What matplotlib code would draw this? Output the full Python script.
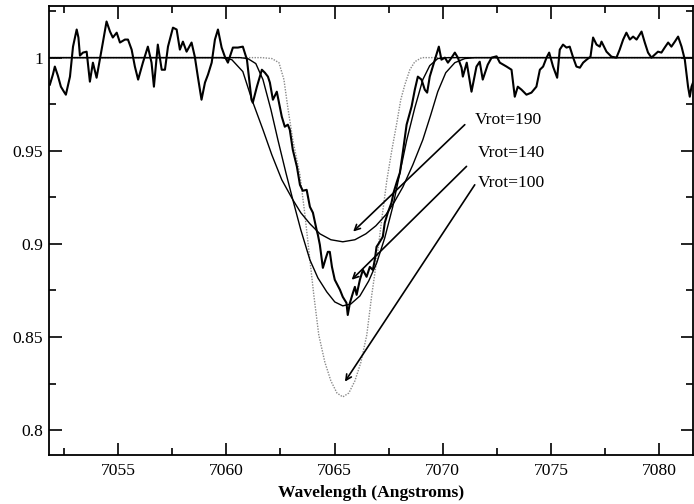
import matplotlib
matplotlib.use("Agg")
import matplotlib.pyplot as plt
from matplotlib.ticker import MultipleLocator, FixedLocator, FixedFormatter

plt.rcParams['font.family'] = ['Liberation Serif', 'DejaVu Serif']

# Observed spectrum
obs_wave = [7051.84, 7051.98, 7052.07, 7052.21, 7052.35, 7052.49, 7052.58, 7052.77, 7052.91, 7053.08,
            7053.16, 7053.23, 7053.37, 7053.54, 7053.69, 7053.83, 7054.00, 7054.15, 7054.29, 7054.46,
            7054.62, 7054.75, 7054.93, 7055.08, 7055.31, 7055.45, 7055.62, 7055.77, 7055.92, 7056.14,
            7056.37, 7056.54, 7056.65, 7056.83, 7057.01, 7057.16, 7057.30, 7057.53, 7057.70, 7057.85,
            7057.99, 7058.16, 7058.39, 7058.54, 7058.68, 7058.85, 7059.01, 7059.15, 7059.32, 7059.47,
            7059.61, 7059.78, 7059.93, 7060.07, 7060.30, 7060.53, 7060.76, 7060.95, 7061.16, 7061.22,
            7061.41, 7061.64, 7061.78, 7061.92, 7062.01, 7062.15, 7062.33, 7062.47, 7062.56, 7062.70,
            7062.84, 7062.93, 7063.07, 7063.26, 7063.40, 7063.53, 7063.71, 7063.86, 7064.00, 7064.17,
            7064.23, 7064.32, 7064.46, 7064.60, 7064.69, 7064.78, 7064.88, 7065.01, 7065.25, 7065.38,
            7065.55, 7065.61, 7065.71, 7065.85, 7065.94, 7066.02, 7066.17, 7066.31, 7066.48, 7066.63,
            7066.77, 7066.86, 7066.94, 7067.09, 7067.23, 7067.32, 7067.46, 7067.63, 7067.74, 7067.88,
            7068.02, 7068.16, 7068.33, 7068.56, 7068.71, 7068.85, 7069.02, 7069.17, 7069.28, 7069.40,
            7069.54, 7069.71, 7069.82, 7069.94, 7070.10, 7070.24, 7070.41, 7070.56, 7070.70, 7070.87,
            7070.93, 7071.11, 7071.33, 7071.56, 7071.71, 7071.85, 7072.08, 7072.26, 7072.49, 7072.64,
            7072.95, 7073.18, 7073.33, 7073.47, 7073.64, 7073.87, 7074.10, 7074.33, 7074.49, 7074.64,
            7074.80, 7074.92, 7075.10, 7075.29, 7075.41, 7075.56, 7075.72, 7075.87, 7076.03, 7076.18,
            7076.34, 7076.49, 7076.65, 7076.83, 7076.95, 7077.11, 7077.26, 7077.34, 7077.57, 7077.80,
            7078.03, 7078.18, 7078.34, 7078.49, 7078.65, 7078.80, 7078.96, 7079.19, 7079.34, 7079.49,
            7079.65, 7079.80, 7079.95, 7080.11, 7080.26, 7080.42, 7080.57, 7080.73, 7080.88, 7081.04,
            7081.19, 7081.34, 7081.42, 7081.50, 7081.57]
obs_flux = [0.9855, 0.9909, 0.9952, 0.9903, 0.9844, 0.9817, 0.9801, 0.9898, 1.0059, 1.0151,
            1.0108, 1.0011, 1.0027, 1.0032, 0.9871, 0.9973, 0.9892, 0.9989, 1.0081, 1.0194,
            1.0140, 1.0108, 1.0134, 1.0081, 1.0097, 1.0097, 1.0043, 0.9952, 0.9882, 0.9973,
            1.0059, 0.9973, 0.9844, 1.0070, 0.9935, 0.9935, 1.0059, 1.0161, 1.0151, 1.0043,
            1.0086, 1.0032, 1.0081, 1.0005, 0.9898, 0.9774, 0.9866, 0.9909, 0.9973, 1.0097,
            1.0151, 1.0054, 1.0005, 0.9973, 1.0054, 1.0054, 1.0059, 0.9989, 0.9774, 0.9758,
            0.9844, 0.9935, 0.9919, 0.9898, 0.9866, 0.9774, 0.9817, 0.9737, 0.9683, 0.9629,
            0.9640, 0.9613, 0.9505, 0.9414, 0.9317, 0.9285, 0.9290, 0.9199, 0.9167, 0.9075,
            0.9048, 0.8995, 0.8871, 0.8925, 0.8957, 0.8957, 0.8876, 0.8807, 0.8753, 0.8715,
            0.8683, 0.8618, 0.8683, 0.8737, 0.8769, 0.8726, 0.8807, 0.8860, 0.8823, 0.8876,
            0.8860, 0.8914, 0.8984, 0.9011, 0.9038, 0.9113, 0.9167, 0.9220, 0.9280, 0.9333,
            0.9382, 0.9495, 0.9640, 0.9737, 0.9828, 0.9898, 0.9882, 0.9828, 0.9812, 0.9898,
            0.9952, 1.0016, 1.0059, 0.9989, 1.0000, 0.9973, 1.0000, 1.0027, 1.0000, 0.9946,
            0.9898, 0.9973, 0.9817, 0.9952, 0.9978, 0.9882, 0.9962, 1.0000, 1.0007, 0.9973,
            0.9952, 0.9935, 0.9790, 0.9844, 0.9828, 0.9801, 0.9812, 0.9844, 0.9935, 0.9952,
            1.0000, 1.0027, 0.9952, 0.9892, 1.0043, 1.0070, 1.0054, 1.0059, 1.0000, 0.9952,
            0.9946, 0.9973, 0.9989, 1.0005, 1.0108, 1.0070, 1.0059, 1.0086, 1.0032, 1.0005,
            1.0000, 1.0043, 1.0097, 1.0134, 1.0097, 1.0113, 1.0097, 1.0140, 1.0081, 1.0027,
            1.0000, 1.0016, 1.0032, 1.0027, 1.0054, 1.0081, 1.0059, 1.0086, 1.0113, 1.0059,
            0.9989, 0.9844, 0.9790, 0.9844, 0.9866]

# Model Vrot=190
v190_wave = [7051.80, 7059.79, 7060.25, 7060.76, 7061.18, 7061.69, 7062.10, 7062.56, 7063.07, 7063.44,
             7063.86, 7064.32, 7064.83, 7065.38, 7065.94, 7066.45, 7066.91, 7067.37, 7067.74, 7068.16,
             7068.62, 7069.08, 7069.45, 7069.77, 7070.14, 7070.56, 7071.02, 7071.48, 7081.57]
v190_flux = [1.0, 1.0, 0.9989, 0.9925, 0.9774, 0.9613, 0.9478, 0.9344, 0.9237, 0.9167,
             0.9108, 0.9054, 0.9022, 0.9011, 0.9022, 0.9054, 0.9097, 0.9156, 0.9220, 0.9306,
             0.9425, 0.9559, 0.9694, 0.9817, 0.9919, 0.9973, 0.9995, 1.0, 1.0]

# Model Vrot=140
v140_wave = [7051.80, 7060.62, 7060.99, 7061.36, 7061.69, 7062.06, 7062.38, 7062.75, 7063.07, 7063.44,
             7063.86, 7064.23, 7064.64, 7065.01, 7065.38, 7065.75, 7066.17, 7066.58, 7066.95, 7067.32,
             7067.69, 7068.02, 7068.34, 7068.71, 7069.08, 7069.40, 7069.77, 7070.24, 7081.57]
v140_flux = [1.0, 1.0, 0.9995, 0.9968, 0.9882, 0.9720, 0.9559, 0.9382, 0.9237, 0.9075,
             0.8914, 0.8817, 0.8742, 0.8688, 0.8667, 0.8677, 0.8720, 0.8801, 0.8898, 0.9032,
             0.9199, 0.9382, 0.9559, 0.9731, 0.9882, 0.9957, 0.9995, 1.0, 1.0]

# Model Vrot=100
v100_wave = [7051.80, 7061.64, 7062.10, 7062.43, 7062.66, 7062.84, 7063.07, 7063.40, 7063.63, 7063.86,
             7064.04, 7064.27, 7064.55, 7064.83, 7065.11, 7065.38, 7065.66, 7065.94, 7066.22, 7066.49,
             7066.72, 7066.95, 7067.19, 7067.42, 7067.65, 7067.88, 7068.06, 7068.25, 7068.48, 7068.71,
             7069.03, 7081.57]
v100_flux = [1.0, 1.0, 0.9995, 0.9973, 0.9882, 0.9731, 0.9559, 0.9371, 0.9156, 0.8914,
             0.8726, 0.8511, 0.8365, 0.8264, 0.8199, 0.8178, 0.8199, 0.8264, 0.8365, 0.8511,
             0.8726, 0.8914, 0.9140, 0.9344, 0.9505, 0.9651, 0.9774, 0.9855, 0.9935, 0.9978,
             1.0, 1.0]

# Annotations
labels = ["Vrot=190", "Vrot=140", "Vrot=100"]
label_xy = [(7071.48, 0.9667), (7071.62, 0.9489), (7071.62, 0.9328)]
arrow_start = [(7071.02, 0.9640), (7071.10, 0.9416), (7071.48, 0.9317)]
arrow_end = [(7065.86, 0.9066), (7065.79, 0.8807), (7065.48, 0.8260)]

xticks = [7055, 7060, 7065, 7070, 7075, 7080]
yticks = [0.8, 0.85, 0.9, 0.95, 1.0]
ytick_labels = ["0.8", "0.85", "0.9", "0.95", "1"]

fig = plt.figure(figsize=(6.94, 5.04), dpi=100)
ax = fig.add_axes([0.0706, 0.0972, 0.928, 0.8908])

ax.plot(v100_wave, v100_flux, color='#8a8a8a', lw=1.0, linestyle=(0, (1, 1)))
ax.plot(v190_wave, v190_flux, color='black', lw=1.0)
ax.plot(v140_wave, v140_flux, color='black', lw=1.0)
ax.plot(obs_wave, obs_flux, color='black', lw=1.5)

fs = 12.6
for lab, lxy, s, e in zip(labels, label_xy, arrow_start, arrow_end):
    ax.annotate('', xy=e, xytext=s,
                arrowprops=dict(arrowstyle='->', color='black', lw=1.2,
                                mutation_scale=10, shrinkA=0, shrinkB=0))
    ax.text(lxy[0], lxy[1], lab, fontsize=fs, ha='left', va='center')

ax.set_xlim(7051.8, 7081.57)
ax.set_ylim(0.7866, 1.0277)

ax.xaxis.set_major_locator(FixedLocator(xticks))
ax.xaxis.set_minor_locator(MultipleLocator(2.5))
ax.yaxis.set_major_locator(FixedLocator(yticks))
ax.yaxis.set_major_formatter(FixedFormatter(ytick_labels))
ax.yaxis.set_minor_locator(MultipleLocator(0.025))

ax.tick_params(which='both', direction='in', top=True, right=True, width=1.2, labelsize=fs)
ax.tick_params(axis='x', pad=6)
ax.tick_params(axis='y', pad=4)
ax.tick_params(which='major', length=9)
ax.tick_params(which='minor', length=5)
for sp in ax.spines.values():
    sp.set_linewidth(1.3)

ax.set_xlabel('Wavelength (Angstroms)', fontsize=fs, fontweight='bold', labelpad=4)

fig.savefig('out.png', dpi=100)
